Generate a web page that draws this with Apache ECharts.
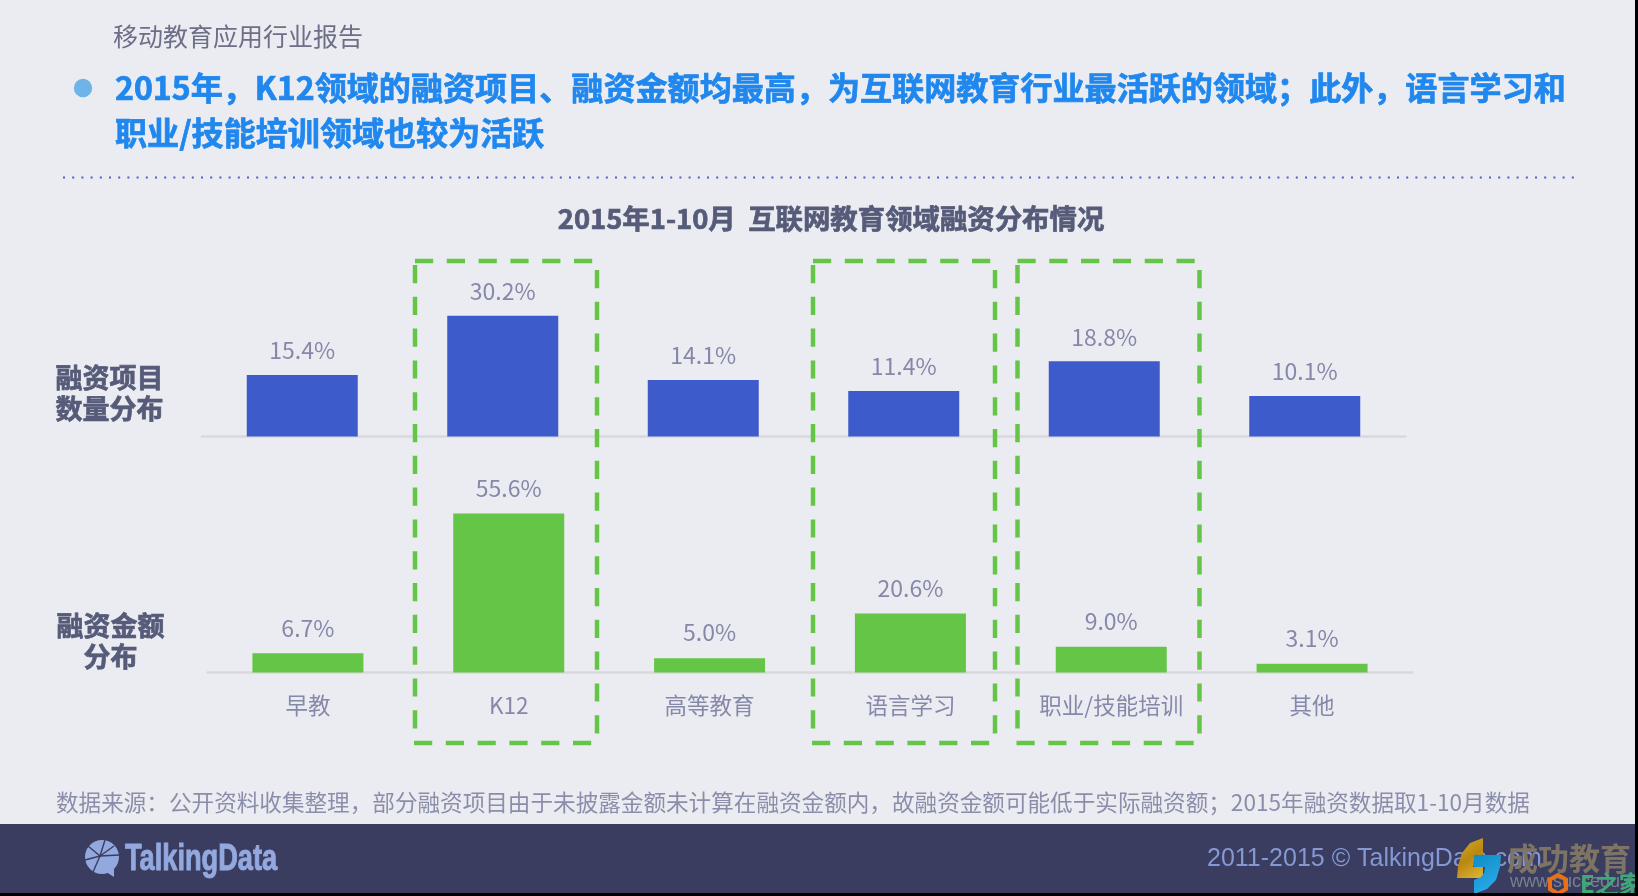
<!DOCTYPE html>
<html lang="zh">
<head>
<meta charset="utf-8">
<title>移动教育应用行业报告</title>
<style>html,body{margin:0;padding:0;background:#ebecf1}#c{width:1638px;height:896px}</style>
<script src="https://cdn.jsdelivr.net/npm/echarts@6/dist/echarts.min.js"></script>
</head>
<body>
<div id="c"></div>
<script>
const categories = ['早教', 'K12', '高等教育', '语言学习', '职业/技能培训', '其他'];
const projectShare = [15.4, 30.2, 14.1, 11.4, 18.8, 10.1];
const amountShare = [6.7, 55.6, 5.0, 20.6, 9.0, 3.1];
const reportName = '移动教育应用行业报告';
const headline = ['2015年，K12领域的融资项目、融资金额均最高，为互联网教育行业最活跃的领域；此外，语言学习和', '职业/技能培训领域也较为活跃'];
const chartTitle = '2015年1-10月  互联网教育领域融资分布情况';
const rowLabels = [['融资项目', '数量分布'], ['融资金额', '分布']];
const sourceNote = '数据来源：公开资料收集整理，部分融资项目由于未披露金额未计算在融资金额内，故融资金额可能低于实际融资额；2015年融资数据取1-10月数据';
const copyright = '2011-2015 © TalkingData.com';

const CJK = '"Noto Sans CJK SC","Noto Sans",sans-serif';
const BG = '#ebecf1', BLUE = '#3d5bcb', GREEN = '#64c547', TICK = '#8588a9', AXIS = '#d9d9dd', DARK = '#555b78', FOOT = '#3a3d5f';

function text(x, y, t, size, fill, extra) {
  return {
    type: 'text', x, y, z: 20,
    style: Object.assign({ text: t, fontSize: size, fill, fontFamily: CJK, textAlign: 'left', textVerticalAlign: 'middle' }, extra || {})
  };
}
function heavy(color) {
  return { fontWeight: 'bold', stroke: color, lineWidth: 0.7 };
}
function seg(x1, y1, x2, y2) {
  return {
    type: 'line', z: 15,
    shape: { x1, y1, x2, y2 },
    style: { stroke: GREEN, lineWidth: 4.5, lineDash: [18.2, 13.6], lineCap: 'butt' }
  };
}
function box(l, r) {
  const t = 261, b = 743;
  return [seg(l, t, r - 3, t), seg(r, 270, r, 735), seg(l - 1, b, r - 3, b), seg(l, 265, l, 732)];
}
function spoke(points) {
  return { type: 'polyline', z: 21, shape: { points }, style: { stroke: FOOT, lineWidth: 1.4, fill: null } };
}

const graphics = [
  { type: 'rect', z: 1, shape: { x: 0, y: 824, width: 1638, height: 72 }, style: { fill: FOOT } },
  text(113, 36.5, reportName, 25, '#6d6e87'),
  { type: 'circle', z: 20, shape: { cx: 83, cy: 88, r: 9.2 }, style: { fill: '#6fb3e8' } },
  text(115, 88, headline[0], 32.1, '#1f87ed', heavy('#1f87ed')),
  text(115, 133, headline[1], 32.1, '#1f87ed', heavy('#1f87ed')),
  { type: 'line', z: 20, shape: { x1: 63, y1: 177.5, x2: 1578, y2: 177.5 }, style: { stroke: '#4a5fd0', lineWidth: 2, lineDash: [2, 7.2] } },
  text(109.5, 378, rowLabels[0][0], 27, DARK, Object.assign(heavy(DARK), { textAlign: 'center' })),
  text(109.5, 409, rowLabels[0][1], 27, DARK, Object.assign(heavy(DARK), { textAlign: 'center' })),
  text(110.5, 626, rowLabels[1][0], 27, DARK, Object.assign(heavy(DARK), { textAlign: 'center' })),
  text(110.5, 657, rowLabels[1][1], 27, DARK, Object.assign(heavy(DARK), { textAlign: 'center' })),
  text(56, 802.5, sourceNote, 22.6, '#8b8eaa'),
  ...box(415, 597), ...box(813, 995), ...box(1017.5, 1199.5),

  /* footer logo */
  { type: 'circle', z: 20, shape: { cx: 102, cy: 857, r: 17 }, style: { fill: '#93a8de' } },
  { type: 'polygon', z: 20, shape: { points: [[103, 870], [114, 866], [114, 877]] }, style: { fill: '#93a8de' } },
  spoke([[85, 860], [100, 856], [119, 855]]),
  spoke([[88, 846], [100, 856], [105, 840]]),
  spoke([[100, 856], [93, 872]]),
  spoke([[100, 856], [114, 846]]),
  { type: 'text', z: 20, x: 125, y: 859.5, scaleX: 0.735, style: { text: 'TalkingData', fontSize: 37, fontWeight: 'bold', fill: '#93a8de', stroke: '#93a8de', lineWidth: 1, fontFamily: '"Liberation Sans",sans-serif', textAlign: 'left', textVerticalAlign: 'middle' } },
  text(1207, 859, copyright, 25, '#8498d4', { fontFamily: '"Liberation Sans",sans-serif' }),

  /* stamped site mark in the footer corner */
  { type: 'polygon', z: 22,
    shape: { points: [[1483, 838], [1483, 854], [1477, 857], [1474, 861], [1473, 867], [1483, 867], [1483, 878], [1457, 878], [1458, 866], [1462, 853], [1470, 843]] },
    style: { fill: { type: 'linear', x: 0, y: 0, x2: 1, y2: 1, colorStops: [{ offset: 0, color: '#d9ac2c' }, { offset: .5, color: '#b98710' }, { offset: 1, color: '#e0b63a' }] } } },
  { type: 'polygon', z: 22,
    shape: { points: [[1474, 855], [1501, 855], [1500, 867], [1496, 880], [1487, 889], [1474, 894], [1474, 880], [1481, 877], [1484, 873], [1485, 867], [1474, 867]] },
    style: { fill: { type: 'linear', x: 0, y: 0, x2: 1, y2: 1, colorStops: [{ offset: 0, color: '#0f8cc4' }, { offset: 1, color: '#2fb0f2' }] } } },
  text(1507, 858, '成功教育', 31, '#7d7465', { fontWeight: 'bold' }),
  text(1510, 882, 'www.succedu.com', 18, '#7b7f90', { fontFamily: '"Liberation Sans",sans-serif' }),
  { type: 'polygon', z: 23, shape: { points: [[1558, 875], [1566, 879.5], [1566, 889], [1558, 893.5], [1550, 889], [1550, 879.5]] }, style: { fill: 'none', stroke: '#e8701a', lineWidth: 4 } },
  text(1580, 884, 'E之家', 24, '#3fa877', { fontWeight: 'bold' }),
  { type: 'rect', z: 30, shape: { x: 0, y: 893, width: 1638, height: 3 }, style: { fill: '#000' } },
  { type: 'rect', z: 30, shape: { x: 1635, y: 0, width: 3, height: 896 }, style: { fill: '#000' } }
];

const labelOf = d => d.value.toFixed(1) + '%';
function axisX(gridIndex, showLabels) {
  return {
    type: 'category', gridIndex, data: categories,
    axisTick: { show: false },
    axisLine: { lineStyle: { color: AXIS, width: 2.5 } },
    axisLabel: { show: showLabels, color: TICK, fontSize: 22.5, margin: 21.5, fontFamily: CJK, interval: 0 }
  };
}
function axisY(gridIndex, max) {
  return { type: 'value', gridIndex, min: 0, max, show: false, splitLine: { show: false } };
}
function bars(idx, data, color, dist) {
  return {
    type: 'bar', xAxisIndex: idx, yAxisIndex: idx, data, barWidth: 111,
    itemStyle: { color }, silent: true, animation: false,
    label: { show: true, position: 'top', distance: dist, formatter: labelOf, color: TICK, fontSize: 23, fontFamily: CJK }
  };
}

const chart = echarts.init(document.getElementById('c'), null, { renderer: 'canvas' });
chart.setOption({
  backgroundColor: BG,
  animation: false,
  title: { text: chartTitle, left: 826, top: 200, textAlign: 'center',
    textStyle: { fontSize: 27.4, fontWeight: 'bold', color: DARK, fontFamily: CJK, textBorderColor: DARK, textBorderWidth: 0.7 } },
  grid: [
    { left: 202, width: 1203, top: 306.5, height: 130 },
    { left: 207.5, width: 1205, top: 501.5, height: 171 }
  ],
  xAxis: [axisX(0, false), axisX(1, true)],
  yAxis: [axisY(0, 32.5), axisY(1, 59.8)],
  series: [bars(0, projectShare, BLUE, 13), bars(1, amountShare, GREEN, 14)],
  graphic: graphics
});
</script>
</body>
</html>
